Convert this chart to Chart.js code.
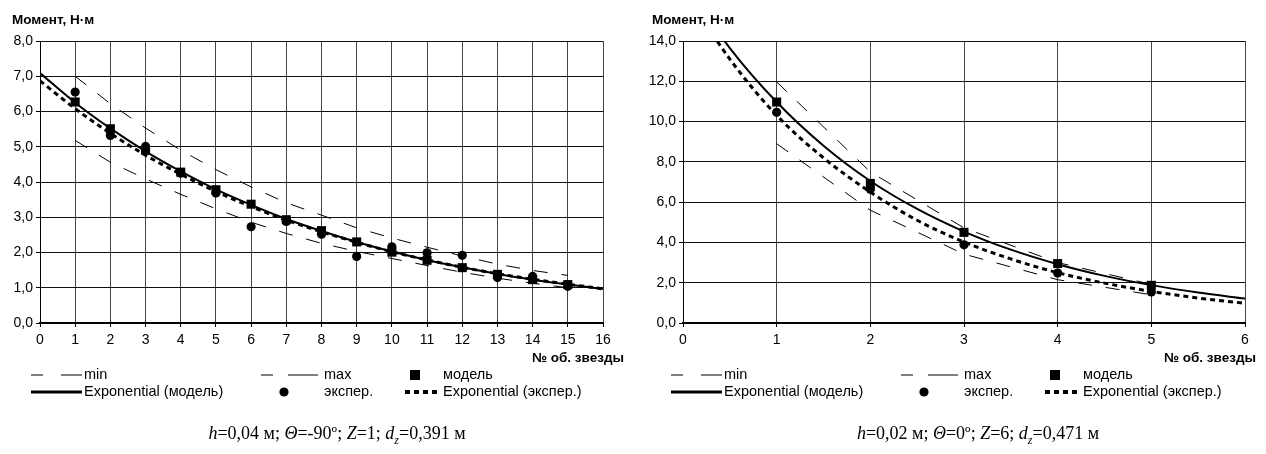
<!DOCTYPE html>
<html>
<head>
<meta charset="utf-8">
<script src="https://cdn.jsdelivr.net/npm/chart.js@4"></script>
<style>
  html, body { margin: 0; padding: 0; background: #fff; }
  body { width: 1266px; height: 454px; position: relative; overflow: hidden; }
  .box { position: absolute; top: 0; height: 454px; }
  #boxL { left: 0; width: 640px; }
  #boxR { left: 640px; width: 626px; }
  .cap {
    position: absolute; top: 423px; white-space: nowrap;
    font-family: "Liberation Serif", "Times New Roman", serif; font-size: 18px;
    transform: translateX(-50%);
  }
  .cap sub { font-size: 12px; }
</style>
</head>
<body>
<div class="box" id="boxL"><canvas id="chartL" width="640" height="454"></canvas></div>
<div class="box" id="boxR"><canvas id="chartR" width="626" height="454"></canvas></div>
<div class="cap" style="left:337px"><i>h</i>=0,04 м; <i>Θ</i>=-90º; <i>Z</i>=1; <i>d</i><sub><i>z</i></sub>=0,391 м</div>
<div class="cap" style="left:978px"><i>h</i>=0,02 м; <i>Θ</i>=0º; <i>Z</i>=6; <i>d</i><sub><i>z</i></sub>=0,471 м</div>
<script>
// left chart: h=0,04; stars 1..15
const leftStars = [1, 2, 3, 4, 5, 6, 7, 8, 9, 10, 11, 12, 13, 14, 15];
const leftModel = [6.27, 5.51, 4.9, 4.28, 3.78, 3.37, 2.93, 2.62, 2.3, 2.01, 1.78, 1.57, 1.38, 1.23, 1.09];
const leftExper = [6.55, 5.32, 5.01, 4.25, 3.69, 2.73, 2.88, 2.52, 1.89, 2.16, 1.99, 1.92, 1.29, 1.32, 1.04];
const leftMin = [5.18, 4.56, 4.09, 3.65, 3.24, 2.86, 2.54, 2.26, 2.03, 1.83, 1.63, 1.44, 1.27, 1.13, 1.0];
const leftMax = [7.0, 6.22, 5.53, 4.9, 4.35, 3.86, 3.41, 3.06, 2.7, 2.41, 2.15, 1.9, 1.67, 1.49, 1.35];
const leftTrendX = [0, 1, 2, 3, 4, 5, 6, 7, 8, 9, 10, 11, 12, 13, 14, 15, 16];
const leftTrendModel = [7.09, 6.25, 5.52, 4.87, 4.3, 3.79, 3.35, 2.95, 2.61, 2.3, 2.03, 1.79, 1.58, 1.39, 1.23, 1.09, 0.97];
const leftTrendExper = [6.87, 6.08, 5.38, 4.76, 4.22, 3.73, 3.3, 2.92, 2.59, 2.29, 2.02, 1.79, 1.58, 1.4, 1.24, 1.1, 0.97];

// right chart: h=0,02; stars 1..5
const rightStars = [1, 2, 3, 4, 5];
const rightModel = [10.97, 6.93, 4.5, 2.95, 1.87];
const rightExper = [10.46, 6.64, 3.88, 2.48, 1.54];
const rightMin = [8.9, 5.6, 3.42, 2.15, 1.4];
const rightMax = [11.97, 7.5, 4.72, 3.0, 1.92];
const rightTrendX = [0, 0.5, 1, 1.5, 2, 2.5, 3, 3.5, 4, 4.5, 5, 5.5, 6];
const rightTrendModel = [17.0, 13.65, 10.97, 8.8, 7.05, 5.66, 4.54, 3.64, 2.92, 2.34, 1.88, 1.51, 1.21];
const rightTrendExper = [16.6, 13.1, 10.31, 8.2, 6.5, 5.1, 4.02, 3.18, 2.5, 1.98, 1.57, 1.24, 0.98];

const yTitle = 'Момент, Н·м';
const xTitle = '№ об. звезды';
const FONT = '"Liberation Sans", Arial, sans-serif';

const pts = (xs, ys) => xs.map((x, i) => ({ x: x, y: ys[i] }));

function makeDatasets(stars, model, exper, mn, mx, tx, tModel, tExper) {
  return [
    { label: 'модель', data: pts(stars, model), showLine: false,
      pointStyle: 'rect', pointRadius: 6.4, pointBackgroundColor: '#000', pointBorderWidth: 0 },
    { label: 'экспер.', data: pts(stars, exper), showLine: false,
      pointStyle: 'circle', pointRadius: 4.6, pointBackgroundColor: '#000', pointBorderWidth: 0 },
    { label: 'Exponential (модель)', data: pts(tx, tModel), showLine: true,
      borderColor: '#000', borderWidth: 2, pointRadius: 0, cubicInterpolationMode: 'monotone' },
    { label: 'Exponential (экспер.)', data: pts(tx, tExper), showLine: true,
      borderColor: '#000', borderWidth: 3, borderDash: [5, 4], pointRadius: 0, cubicInterpolationMode: 'monotone' },
    { label: 'min', data: pts(stars, mn), showLine: true,
      borderColor: '#000', borderWidth: 1, borderDash: [14, 14], pointRadius: 0, tension: 0 },
    { label: 'max', data: pts(stars, mx), showLine: true,
      borderColor: '#000', borderWidth: 1, borderDash: [14, 14], pointRadius: 0, tension: 0 },
  ];
}

//titles and the two-row legend under the plot
const decor = {
  id: 'decor',
  afterDraw(chart, args, opts) {
    const ctx = chart.ctx;
    const ds = chart.data.datasets;
    const row1 = 375, row2 = 392;
    ctx.save();
    ctx.fillStyle = '#000';
    ctx.strokeStyle = '#000';
    ctx.textBaseline = 'middle';

    ctx.font = 'bold 13.5px ' + FONT;
    ctx.textAlign = 'left';
    ctx.fillText(yTitle, 12, 20);
    ctx.textAlign = 'right';
    ctx.fillText(xTitle, opts.xTitleRight, 358);

    const seg = (x1, x2, y, w, dash) => {
      ctx.lineWidth = w;
      ctx.setLineDash(dash || []);
      ctx.beginPath();
      ctx.moveTo(x1, y);
      ctx.lineTo(x2, y);
      ctx.stroke();
      ctx.setLineDash([]);
    };

    //min, max
    seg(31, 43, row1, 1); seg(61, 82, row1, 1);
    seg(261, 273, row1, 1); seg(288, 318, row1, 1);
    //модель
    ctx.fillRect(410, row1 - 5, 10, 10);
    //Exponential (модель)
    seg(31, 82, row2, 3);
    //экспер.
    ctx.beginPath();
    ctx.arc(284, row2, 4.6, 0, Math.PI * 2);
    ctx.fill();
    //Exponential (экспер.)
    seg(405, 441, row2, 4, ds[3].borderDash);

    ctx.font = '14.5px ' + FONT;
    ctx.textAlign = 'left';
    ctx.fillText(ds[4].label, 84, row1);
    ctx.fillText(ds[5].label, 324, row1);
    ctx.fillText(ds[0].label, 443, row1);
    ctx.fillText(ds[2].label, 84, row2);
    ctx.fillText(ds[1].label, 324, row2);
    ctx.fillText(ds[3].label, 443, row2);
    ctx.restore();
  },
};

function makeChart(canvasId, datasets, xMax, yMax, yStep, yWidth, padRight, xTitleRight) {
  return new Chart(document.getElementById(canvasId), {
    type: 'scatter',
    data: { datasets: datasets },
    plugins: [decor],
    options: {
      responsive: false,
      animation: false,
      layout: { padding: { left: 0, right: padRight, top: 41, bottom: 109 } },
      plugins: {
        legend: { display: false },
        tooltip: { enabled: false },
        decor: { xTitleRight: xTitleRight },
      },
      scales: {
        x: {
          type: 'linear',
          min: 0,
          max: xMax,
          afterFit: (scale) => { scale.height = 22; },
          ticks: { stepSize: 1, padding: 5, color: '#000', font: { family: FONT, size: 14 } },
          grid: { color: '#444', lineWidth: 1, tickLength: 4, tickColor: '#000' },
          border: { color: '#000', width: 2 },
        },
        y: {
          min: 0,
          max: yMax,
          afterFit: (scale) => { scale.width = yWidth; },
          ticks: {
            stepSize: yStep, padding: 3, color: '#000', font: { family: FONT, size: 14 },
            callback: (v) => v.toFixed(1).replace('.', ','),
          },
          grid: { color: '#111', lineWidth: 1, tickLength: 4, tickColor: '#000' },
          border: { color: '#000', width: 1 },
        },
      },
    },
  });
}

makeChart('chartL',
  makeDatasets(leftStars, leftModel, leftExper, leftMin, leftMax, leftTrendX, leftTrendModel, leftTrendExper),
  16, 8, 1, 40, 37, 624);

makeChart('chartR',
  makeDatasets(rightStars, rightModel, rightExper, rightMin, rightMax, rightTrendX, rightTrendModel, rightTrendExper),
  6, 14, 2, 43, 21, 616);
</script>
</body>
</html>
